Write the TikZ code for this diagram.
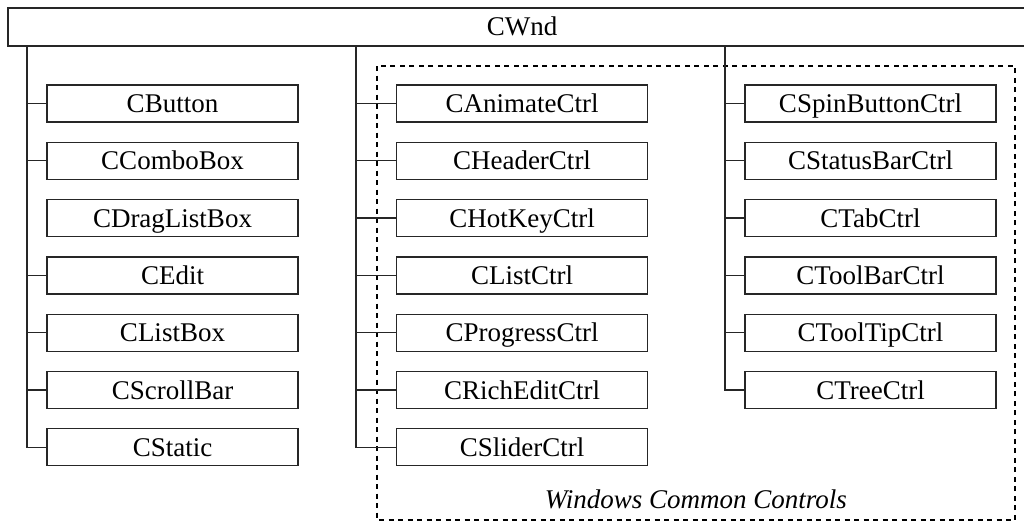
\documentclass[tikz,border=0pt]{standalone}
\usepackage{fontspec}
\setmainfont{Liberation Serif}
\begin{document}
\begin{tikzpicture}[x=1pt,y=-1pt,
  box/.style={draw=black!85, line width=1.3pt, fill=white, minimum width=251pt,
    minimum height=37pt, inner sep=0pt, text height=18pt, text depth=0pt,
    font=\fontsize{27}{32}\selectfont},
  link/.style={draw=black!85, line width=1.3pt},
  group/.style={draw=black, line width=1.6pt, dash pattern=on 5pt off 4.5pt}]
\useasboundingbox (0,0) rectangle (1024,527);

% root
\node[box, minimum width=1028pt, minimum height=38pt] (cwnd) at (522,27) {CWnd};

% trunk x positions
\coordinate (ta) at (27,0);
\coordinate (tb) at (356,0);
\coordinate (tc) at (725,0);

% group frame
\draw[group] (377,66) rectangle (1015,520);
\node[font=\fontsize{27}{32}\selectfont\itshape, anchor=base east, inner sep=0pt] (wcc) at (847,508) {Windows Common Controls};

% left column
\node[box] (cbutton) at (172.5,103.5) {CButton};
\node[box] (ccombo) at (172.5,160.8) {CComboBox};
\node[box] (cdrag) at (172.5,218.1) {CDragListBox};
\node[box] (cedit) at (172.5,275.4) {CEdit};
\node[box] (clistbox) at (172.5,332.7) {CListBox};
\node[box] (cscroll) at (172.5,390.0) {CScrollBar};
\node[box] (cstatic) at (172.5,447.3) {CStatic};

% middle column
\node[box] (canim) at (522,103.5) {CAnimateCtrl};
\node[box] (cheader) at (522,160.8) {CHeaderCtrl};
\node[box] (chotkey) at (522,218.1) {CHotKeyCtrl};
\node[box] (clistctrl) at (522,275.4) {CListCtrl};
\node[box] (cprog) at (522,332.7) {CProgressCtrl};
\node[box] (crich) at (522,390.0) {CRichEditCtrl};
\node[box] (cslider) at (522,447.3) {CSliderCtrl};

% right column
\node[box] (cspin) at (870.5,103.5) {CSpinButtonCtrl};
\node[box] (cstatus) at (870.5,160.8) {CStatusBarCtrl};
\node[box] (ctab) at (870.5,218.1) {CTabCtrl};
\node[box] (ctoolbar) at (870.5,275.4) {CToolBarCtrl};
\node[box] (ctooltip) at (870.5,332.7) {CToolTipCtrl};
\node[box] (ctree) at (870.5,390.0) {CTreeCtrl};

% left trunk
\draw[link] (cwnd.south -| ta) |- (cstatic.west);
\foreach \n in {cbutton,ccombo,cedit,clistbox,cscroll}
  \draw[link] (\n.west -| ta) -- (\n.west);

% middle trunk
\draw[link] (cwnd.south -| tb) |- (cslider.west);
\foreach \n in {canim,cheader,chotkey,clistctrl,cprog,crich}
  \draw[link] (\n.west -| tb) -- (\n.west);

% right trunk
\draw[link] (cwnd.south -| tc) |- (ctree.west);
\foreach \n in {cspin,cstatus,ctab,ctoolbar,ctooltip}
  \draw[link] (\n.west -| tc) -- (\n.west);
\end{tikzpicture}
\end{document}
